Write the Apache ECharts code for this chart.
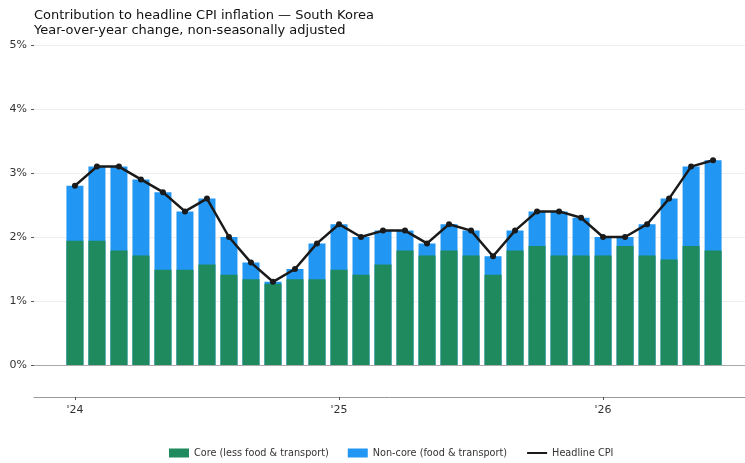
<!DOCTYPE html>
<html>
<head>
<meta charset="utf-8">
<script src="https://cdn.jsdelivr.net/npm/echarts@6/dist/echarts.min.js"></script>
<style>
  html, body { margin: 0; padding: 0; background: #fff; }
  #chart { width: 745px; height: 463px; }
</style>
</head>
<body>
<div id="chart"></div>
<script>
// months Jan 2024 .. Jun 2026
const months = ["2024-01","2024-02","2024-03","2024-04","2024-05","2024-06","2024-07","2024-08","2024-09","2024-10","2024-11","2024-12",
  "2025-01","2025-02","2025-03","2025-04","2025-05","2025-06","2025-07","2025-08","2025-09","2025-10","2025-11","2025-12",
  "2026-01","2026-02","2026-03","2026-04","2026-05","2026-06"]

// contribution, percentage points
const core = [1.94, 1.94, 1.79, 1.71, 1.49, 1.49, 1.57, 1.41, 1.34, 1.27, 1.34, 1.34,
  1.49, 1.41, 1.57, 1.79, 1.71, 1.79, 1.71, 1.41, 1.79, 1.86, 1.71, 1.71,
  1.71, 1.86, 1.71, 1.65, 1.86, 1.79]
const nonCore = [0.86, 1.16, 1.31, 1.19, 1.21, 0.91, 1.03, 0.59, 0.26, 0.03, 0.16, 0.56,
  0.71, 0.59, 0.53, 0.31, 0.19, 0.41, 0.39, 0.29, 0.31, 0.54, 0.69, 0.59,
  0.29, 0.14, 0.49, 0.95, 1.24, 1.41]
const headline = [2.8, 3.1, 3.1, 2.9, 2.7, 2.4, 2.6, 2.0, 1.6, 1.3, 1.5, 1.9,
  2.2, 2.0, 2.1, 2.1, 1.9, 2.2, 2.1, 1.7, 2.1, 2.4, 2.4, 2.3,
  2.0, 2.0, 2.2, 2.6, 3.1, 3.2]

const yTicks = [0, 1, 2, 3, 4, 5]
const xTickPos = [0, 12, 24]
const xTickLabels = ["'24", "'25", "'26"]

const font = "DejaVu Sans"
const idx = months.map((m, i) => i)
const pair = arr => arr.map((v, i) => [idx[i], v])
// value axis on x does not stack, so the blue bar is drawn as core + non-core behind the green one
const total = core.map((v, i) => +(v + nonCore[i]).toFixed(2))

const chart = echarts.init(document.getElementById("chart"))

const option = {
  animation: false,
  backgroundColor: "#fff",
  textStyle: { fontFamily: font },
  title: {
    text: "Contribution to headline CPI inflation — South Korea\nYear-over-year change, non-seasonally adjusted",
    left: 29,
    top: 3,
    textStyle: {
      fontFamily: font,
      fontSize: 13,
      fontWeight: "normal",
      color: "#111",
      lineHeight: 15
    }
  },
  legend: {
    bottom: 0,
    left: 164,
    itemWidth: 20,
    itemHeight: 9,
    itemGap: 19,
    textStyle: { fontFamily: font, fontSize: 9.7, color: "#333" },
    data: [
      { name: "Core (less food & transport)", icon: "rect" },
      { name: "Non-core (food & transport)", icon: "rect" },
      { name: "Headline CPI", itemStyle: { opacity: 0 } }
    ]
  },
  grid: { left: 34, right: 0, top: 45, bottom: 66 },
  xAxis: {
    type: "value",
    min: -1.86,
    max: 30.45,
    splitLine: { show: false },
    axisLine: { show: true, onZero: false, lineStyle: { color: "#999", width: 1 } },
    axisTick: { show: true, length: 3, customValues: xTickPos, lineStyle: { color: "#555" } },
    axisLabel: {
      customValues: xTickPos,
      margin: 8,
      fontSize: 11,
      color: "#333",
      formatter: v => xTickLabels[xTickPos.indexOf(v)] || ""
    }
  },
  yAxis: {
    type: "value",
    min: -0.5,
    max: 5,
    axisLine: { show: false, onZero: false },
    axisTick: { show: true, length: 3, customValues: yTicks, lineStyle: { color: "#555" } },
    axisLabel: {
      customValues: yTicks,
      margin: 7,
      fontSize: 11,
      color: "#333",
      formatter: v => v + "%"
    },
    splitLine: { show: true, lineStyle: { color: "#eee", width: 1 } }
  },
  series: [
    {
      name: "Non-core (food & transport)",
      type: "bar",
      barWidth: 17,
      barGap: "-100%",
      itemStyle: { color: "#2196f3" },
      data: pair(total),
      markLine: {
        silent: true,
        symbol: "none",
        label: { show: false },
        lineStyle: { color: "#aaa", width: 1.2, type: "solid" },
        data: [{ yAxis: 0 }]
      }
    },
    {
      name: "Core (less food & transport)",
      type: "bar",
      barWidth: 17,
      barGap: "-100%",
      itemStyle: { color: "#1e8a5e" },
      data: pair(core)
    },
    {
      name: "Headline CPI",
      type: "line",
      symbol: "circle",
      symbolSize: 6,
      itemStyle: { color: "#1a1a1a" },
      lineStyle: { color: "#1a1a1a", width: 2.5 },
      data: pair(headline),
      z: 5
    }
  ]
}

chart.setOption(option)
</script>
</body>
</html>
